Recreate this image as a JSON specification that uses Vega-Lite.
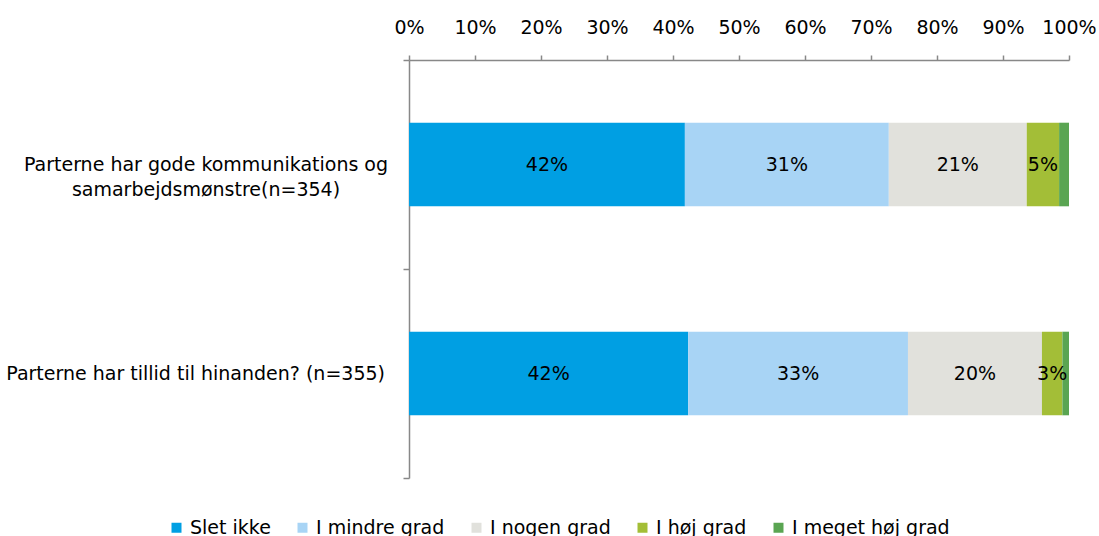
{
  "$schema": "https://vega.github.io/schema/vega-lite/v6.json",
  "autosize": "none",
  "width": 660,
  "height": 418,
  "padding": {"left": 409, "top": 60, "right": 30, "bottom": 58},
  "background": "white",
  "config": {"view": {"stroke": null}, "font": "DejaVu Sans"},
  "data": {
    "values": [
      {"q": "Parterne har gode kommunikations og|samarbejdsmønstre(n=354)", "cat": "Slet ikke", "k": 0, "value": 0.418},
      {"q": "Parterne har gode kommunikations og|samarbejdsmønstre(n=354)", "cat": "I mindre grad", "k": 1, "value": 0.309},
      {"q": "Parterne har gode kommunikations og|samarbejdsmønstre(n=354)", "cat": "I nogen grad", "k": 2, "value": 0.209},
      {"q": "Parterne har gode kommunikations og|samarbejdsmønstre(n=354)", "cat": "I høj grad", "k": 3, "value": 0.049},
      {"q": "Parterne har gode kommunikations og|samarbejdsmønstre(n=354)", "cat": "I meget høj grad", "k": 4, "value": 0.015},
      {"q": "Parterne har tillid til hinanden? (n=355)", "cat": "Slet ikke", "k": 0, "value": 0.423},
      {"q": "Parterne har tillid til hinanden? (n=355)", "cat": "I mindre grad", "k": 1, "value": 0.333},
      {"q": "Parterne har tillid til hinanden? (n=355)", "cat": "I nogen grad", "k": 2, "value": 0.203},
      {"q": "Parterne har tillid til hinanden? (n=355)", "cat": "I høj grad", "k": 3, "value": 0.031},
      {"q": "Parterne har tillid til hinanden? (n=355)", "cat": "I meget høj grad", "k": 4, "value": 0.010}
    ]
  },
  "transform": [
    {"stack": "value", "groupby": ["q"], "sort": [{"field": "k", "order": "ascending"}], "as": ["v0", "v1"]},
    {"calculate": "(datum.v0 + datum.v1) / 2", "as": "mid"}
  ],
  "encoding": {
    "y": {
      "field": "q",
      "type": "nominal",
      "sort": null,
      "scale": {"paddingInner": 0, "paddingOuter": 0},
      "axis": {
        "title": null,
        "labels": false,
        "domainColor": "#888888",
        "tickColor": "#888888",
        "tickSize": 6,
        "tickBand": "extent",
        "domainWidth": 1.5,
        "tickWidth": 1.5
      }
    }
  },
  "layer": [
    {
      "mark": {"type": "bar", "height": {"band": 0.4}},
      "encoding": {
        "x": {
          "field": "v0",
          "type": "quantitative",
          "scale": {"domain": [0, 1], "nice": false},
          "axis": {
            "orient": "top",
            "title": null,
            "format": ".0%",
            "values": [0, 0.1, 0.2, 0.3, 0.4, 0.5, 0.6, 0.7, 0.8, 0.9, 1],
            "grid": false,
            "domainColor": "#888888",
            "tickColor": "#888888",
            "tickSize": 5,
            "domainWidth": 1.5,
            "tickWidth": 1.5,
            "labelFontSize": 19,
            "labelColor": "#000000",
            "labelPadding": 18,
            "labelFlush": false
          }
        },
        "x2": {"field": "v1"},
        "color": {
          "field": "cat",
          "type": "nominal",
          "sort": ["Slet ikke", "I mindre grad", "I nogen grad", "I høj grad", "I meget høj grad"],
          "scale": {
            "domain": ["Slet ikke", "I mindre grad", "I nogen grad", "I høj grad", "I meget høj grad"],
            "range": ["#009FE3", "#A8D4F5", "#E1E1DC", "#A3BE37", "#5AA552"]
          },
          "legend": {
            "title": null,
            "orient": "none",
            "direction": "horizontal",
            "legendX": -242,
            "legendY": 458,
            "symbolType": "square",
            "symbolSize": 100,
            "symbolStrokeWidth": 0,
            "labelFontSize": 19,
            "labelColor": "#000000",
            "labelOffset": 4,
            "columnPadding": 22
          }
        }
      }
    },
    {
      "transform": [{"filter": "datum.value >= 0.025"}],
      "mark": {"type": "text", "fontSize": 19, "color": "#000000", "align": "center", "baseline": "middle"},
      "encoding": {
        "x": {"field": "mid", "type": "quantitative"},
        "text": {"field": "value", "type": "quantitative", "format": ".0%"}
      }
    },
    {
      "transform": [{"filter": "datum.k == 0 && indexof(datum.q, '|') >= 0"}],
      "mark": {"type": "text", "fontSize": 19, "color": "#000000", "align": "center", "baseline": "middle", "lineBreak": "|", "lineHeight": 25, "dx": -203},
      "encoding": {
        "x": {"datum": 0, "type": "quantitative"},
        "text": {"field": "q"}
      }
    },
    {
      "transform": [{"filter": "datum.k == 0 && indexof(datum.q, '|') < 0"}],
      "mark": {"type": "text", "fontSize": 19, "color": "#000000", "align": "right", "baseline": "middle", "dx": -24},
      "encoding": {
        "x": {"datum": 0, "type": "quantitative"},
        "text": {"field": "q"}
      }
    }
  ]
}
